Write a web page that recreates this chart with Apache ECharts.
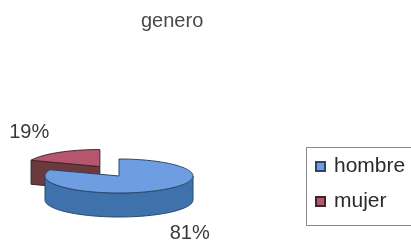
<!DOCTYPE html>
<html>
<head>
<meta charset="utf-8">
<script src="https://cdn.jsdelivr.net/npm/echarts@6/dist/echarts.min.js"></script>
<style>
  html, body { margin: 0; padding: 0; background: #fff; }
  #chart { width: 411px; height: 244px; }
</style>
</head>
<body>
<div id="chart"></div>
<script>
var categories = ['hombre', 'mujer'];
var values = [81, 19];
var explode = [0, 0.46];

var total = values.reduce(function (a, b) { return a + b; }, 0);
var startAngles = [];
var acc = 0;
values.forEach(function (v) { startAngles.push(acc); acc += v / total * 360; });

// look of the fake 3d pie
var CX = 119, CY = 176, RX = 74, RY = 17, DEPTH = 24;
var topColors = ['#6f9de2', '#b5566e'];
var sideColors = ['#3f71ad', '#6b3a3c'];
var lineColors = ['#2b4766', '#3e2628'];
var font = '"Liberation Sans", Arial, sans-serif';

function rad(d) { return d * Math.PI / 180; }
function pt(ox, oy, a, dy) {
    return [ox + RX * Math.sin(rad(a)), oy - RY * Math.cos(rad(a)) + (dy || 0)];
}
function arc(ox, oy, a, b, dy) {
    var pts = [];
    var n = Math.max(2, Math.ceil(Math.abs(b - a) / 2));
    for (var k = 0; k <= n; k++) pts.push(pt(ox, oy, a + (b - a) * k / n, dy));
    return pts;
}

function makeSlice(i) {
    return function (params, api) {
        var v = api.value(0);
        var a = startAngles[i];
        var b = a + v / total * 360;
        var mid = (a + b) / 2;
        var ox = CX + Math.sin(rad(mid)) * RX * explode[i];
        var oy = CY - Math.cos(rad(mid)) * RY * explode[i] - (explode[i] ? 3 : 0);
        var kids = [];
        var lineStyle = { stroke: lineColors[i], lineWidth: 1 };

        // front wall
        var lo = Math.max(a, 90), hi = Math.min(b, 270);
        if (hi > lo) {
            var side = arc(ox, oy, lo, hi, 0).concat(arc(ox, oy, hi, lo, DEPTH));
            kids.push({ type: 'polygon', shape: { points: side },
                style: Object.assign({ fill: sideColors[i] }, lineStyle) });
        }
        // cut faces that face the viewer
        [[a, -1], [b, 1]].forEach(function (f) {
            if (f[1] * Math.sin(rad(f[0])) > 0.01) {
                var p = pt(ox, oy, f[0], 0);
                var face = [[ox, oy], p, [p[0], p[1] + DEPTH], [ox, oy + DEPTH]];
                kids.push({ type: 'polygon', shape: { points: face },
                    style: Object.assign({ fill: sideColors[i] }, lineStyle) });
            }
        });
        // top
        var top = [[ox, oy]].concat(arc(ox, oy, a, b, 0));
        kids.push({ type: 'polygon', shape: { points: top },
            style: Object.assign({ fill: topColors[i] }, lineStyle) });
        // percent label
        var c = Math.cos(rad(mid));
        kids.push({ type: 'text', style: {
            text: Math.round(v / total * 100) + '%',
            x: ox + Math.sin(rad(mid)) * RX * 1.7,
            y: oy - c * RY * 2.4 + (c < 0 ? DEPTH : 0),
            fill: '#3a3a3a', fontSize: 20, fontFamily: font,
            align: 'center', verticalAlign: 'middle'
        } });
        return { type: 'group', children: kids };
    };
}

var chart = echarts.init(document.getElementById('chart'));
chart.setOption({
    animation: false,
    title: {
        text: 'genero', left: 136, top: 6,
        textStyle: { color: '#4a4a4a', fontSize: 20, fontWeight: 'normal', fontFamily: font }
    },
    // legend frame runs off the right edge, as in the scan
    graphic: [{
        type: 'rect', left: 306, top: 147, z: 0,
        shape: { width: 130, height: 78 },
        style: { fill: '#fff', stroke: '#888', lineWidth: 1 }
    }],
    legend: {
        orient: 'vertical', left: 306, top: 147,
        padding: [9, 10, 11, 9],
        itemGap: 14, itemWidth: 9, itemHeight: 9, icon: 'rect',
        textStyle: { color: '#2a2a2a', fontSize: 21, fontFamily: font, padding: [0, 0, 0, 4] },
        data: categories
    },
    series: categories.map(function (name, i) {
        return {
            type: 'custom', name: name, coordinateSystem: 'none',
            z: 3 - i, silent: true,
            itemStyle: { color: topColors[i], borderColor: lineColors[i], borderWidth: 1 },
            renderItem: makeSlice(i),
            data: [values[i]]
        };
    })
});
</script>
</body>
</html>
